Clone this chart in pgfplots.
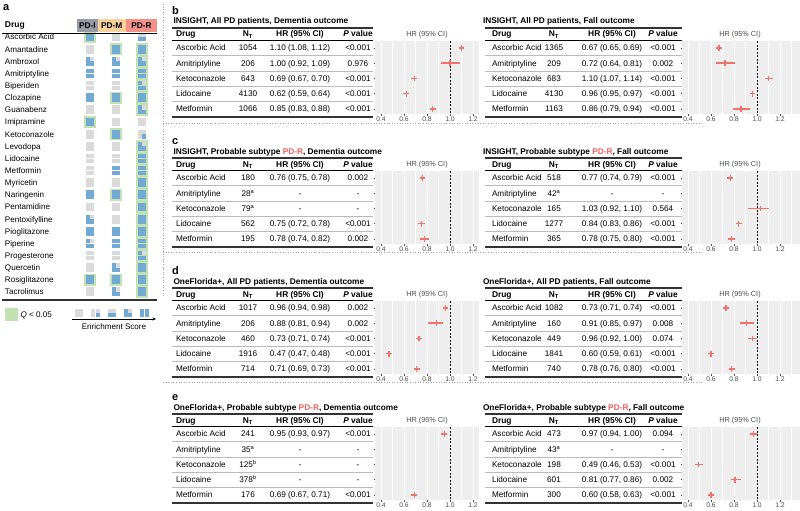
\documentclass[border=0pt]{standalone}
\usepackage{fontspec}
\setmainfont{Liberation Sans}
\usepackage{pgfplots}
\pgfplotsset{compat=1.18}
\usepackage{pgfplotstable}
\usetikzlibrary{arrows.meta}

\definecolor{fbg}{HTML}{EEEEEE}
\definecolor{hrred}{HTML}{F0736B}
\definecolor{pdred}{HTML}{F0625D}
\definecolor{boxI}{HTML}{989BA6}
\definecolor{boxM}{HTML}{F9D29B}
\definecolor{boxR}{HTML}{F4908A}
\definecolor{qgreen}{HTML}{C3E2B3}
\definecolor{cblue}{HTML}{72AAD4}
\definecolor{cgray}{HTML}{DADADA}
\definecolor{tgray}{HTML}{4D4D4D}
\definecolor{sepgray}{HTML}{BBBBBB}
\definecolor{tline}{HTML}{333333}

\newcommand\fs[1]{\fontsize{#1}{#1}\selectfont}

% enrichment cells: column, row, score (0-4 blue quarters), q (1 = Q<0.05)
\pgfplotstableread{
c r s q
0 0 4 1
0 1 0 0
0 2 3 0
0 3 4 0
0 4 0 0
0 5 4 0
0 6 0 0
0 7 4 1
0 8 0 0
0 9 0 0
0 10 0 0
0 11 0 0
0 12 0 0
0 13 4 0
0 14 0 0
0 15 3 0
0 16 4 0
0 17 3 0
0 18 0 0
0 19 0 0
0 20 4 1
0 21 0 0
1 0 0 0
1 1 4 1
1 2 3 0
1 3 4 0
1 4 0 0
1 5 4 1
1 6 0 0
1 7 0 0
1 8 4 1
1 9 0 0
1 10 0 0
1 11 4 0
1 12 0 0
1 13 4 1
1 14 0 0
1 15 0 0
1 16 4 0
1 17 4 0
1 18 0 0
1 19 3 0
1 20 4 1
1 21 3 0
2 0 2 0
2 1 4 1
2 2 3 1
2 3 4 1
2 4 3 1
2 5 4 1
2 6 3 1
2 7 0 0
2 8 1 0
2 9 3 1
2 10 4 1
2 11 4 1
2 12 4 1
2 13 4 1
2 14 4 1
2 15 4 1
2 16 4 1
2 17 4 1
2 18 3 1
2 19 4 1
2 20 4 1
2 21 4 1
-0.4231 22.73 0 0
0.2115 22.73 1 0
0.8462 22.73 2 0
1.4615 22.73 3 0
2.0962 22.73 4 0
}\hm

% forest data: row, HR, lower, upper
\pgfplotstableread{
r hr lo hi
1 1.10 1.08 1.12
2 1.00 0.92 1.09
3 0.69 0.67 0.70
4 0.62 0.59 0.64
5 0.85 0.83 0.88
}\bL
\pgfplotstableread{
r hr lo hi
1 0.67 0.65 0.69
2 0.72 0.64 0.81
3 1.10 1.07 1.14
4 0.96 0.95 0.97
5 0.86 0.79 0.94
}\bR
\pgfplotstableread{
r hr lo hi
1 0.76 0.75 0.78
4 0.75 0.72 0.78
5 0.78 0.74 0.82
}\cL
\pgfplotstableread{
r hr lo hi
1 0.77 0.74 0.79
3 1.03 0.92 1.10
4 0.84 0.83 0.86
5 0.78 0.75 0.80
}\cR
\pgfplotstableread{
r hr lo hi
1 0.96 0.94 0.98
2 0.88 0.81 0.94
3 0.73 0.71 0.74
4 0.47 0.47 0.48
5 0.71 0.69 0.73
}\dL
\pgfplotstableread{
r hr lo hi
1 0.73 0.71 0.74
2 0.91 0.85 0.97
3 0.96 0.92 1.00
4 0.60 0.59 0.61
5 0.78 0.76 0.80
}\dR
\pgfplotstableread{
r hr lo hi
1 0.95 0.93 0.97
5 0.69 0.67 0.71
}\eL
\pgfplotstableread{
r hr lo hi
1 0.97 0.94 1.00
3 0.49 0.46 0.53
4 0.81 0.77 0.86
5 0.60 0.58 0.63
}\eR

\pgfplotsset{
  forest/.style={
    scale only axis, height=72.96pt, anchor=north west,
    xmin=0.35, ymin=0.55, ymax=5.35, y dir=reverse,
    axis background/.style={fill=fbg},
    axis line style={draw=none},
    xtick={0.4,0.6,0.8,1.0,1.2}, minor xtick={0.5,0.7,0.9,1.1,1.3},
    ytick={1,2,3,4,5}, yticklabels={},
    xmajorgrids, xminorgrids,
    major grid style={white, line width=0.7pt},
    minor grid style={white, line width=0.35pt},
    tick align=outside, major tick length=1.5pt, minor tick length=0pt,
    tick style={tgray, line width=0.5pt},
    xtick pos=bottom, ytick pos=left,
    /pgf/number format/assume math mode=true,
    xticklabel style={font=\fs{6.8}, text=tgray, inner sep=1pt,
      /pgf/number format/fixed, /pgf/number format/fixed zerofill,
      /pgf/number format/precision=1},
  },
  cellg/.style={only marks, mark=square*, mark size=1.65pt, color=cgray, mark options={line width=0pt}},
  cellb/.style={only marks, mark=square*, mark size=1.65pt, color=cblue, mark options={line width=0pt}},
}

% forest plot: CI as a flat quiver from lo to hi, HR as a cross
% #1 x, #2 y, #3 table, #4 xmax, #5 width
\newcommand\forest[5]{%
\begin{axis}[forest, at={(#1pt,-#2pt)}, xmax=#4, width=#5pt]
\addplot[black, line width=0.6pt, dash pattern=on 2pt off 1.5pt] coordinates {(1,0.55) (1,5.35)};
\addplot[hrred, draw=hrred, line width=1.7pt, mark=none, quiver={u=\thisrow{hi}-\thisrow{lo}, v=0}] table[x=lo, y=r] {#3};
\addplot[only marks, mark=+, mark size=2.9pt, color=hrred, mark options={line width=1.4pt, draw=hrred}] table[x=hr, y=r] {#3};
\end{axis}}

\newcommand\setL{\def\xa{172}\def\xe{373}\def\xt{173.5}\def\xd{176}\def\xn{248}\def\xh{300}\def\xp{358}\def\xf{427}}
\newcommand\setR{\def\xa{485}\def\xe{682}\def\xt{483}\def\xd{492}\def\xn{554}\def\xh{612}\def\xp{663}\def\xf{740}}

\newcommand\tabhead[1]{%
  \node[anchor=base west, font=\bfseries\fs{8.3}] at (\xt,{24+\dy}) {#1};
  \draw[line width=1.2pt, tline] (\xa,{28+\dy}) -- (\xe,{28+\dy});
  \node[anchor=base west, font=\bfseries\fs{8.4}] at (\xd,{37+\dy}) {Drug};
  \node[anchor=base, font=\bfseries\fs{8.4}] at (\xn,{37+\dy}) {N\textsubscript{T}};
  \node[anchor=base, font=\bfseries\fs{8.4}] at (\xh,{37+\dy}) {HR (95\% CI)};
  \node[anchor=base, font=\bfseries\fs{8.4}] at (\xp,{37+\dy}) {\textit{P} value};
  \draw[line width=0.7pt] (\xa,{40.5+\dy}) -- (\xe,{40.5+\dy});
  \foreach \k in {1,...,4} \draw[line width=0.4pt, sepgray] (\xa,{48+15.2*(\k-0.5)+\dy}) -- (\xe,{48+15.2*(\k-0.5)+\dy});
  \draw[line width=1.2pt, tline] (\xa,{117+\dy}) -- (\xe,{117+\dy});
  \node[font=\fs{7.3}, text=tgray] at (\xf,{35+\dy}) {HR (95\% CI)};
}

\newcommand\trow[5]{%
  \node[anchor=base west, font=\fs{8.2}] at (\xd,{48+15.2*(#1-1)+\dy+2.9}) {#2};
  \node[anchor=base, font=\fs{8.2}] at (\xn,{48+15.2*(#1-1)+\dy+2.9}) {#3};
  \node[anchor=base, font=\fs{8.2}] at (\xh,{48+15.2*(#1-1)+\dy+2.9}) {#4};
  \node[anchor=base, font=\fs{8.2}] at (\xp,{48+15.2*(#1-1)+\dy+2.9}) {#5};
}

\begin{document}
\begin{tikzpicture}
\path[use as bounding box] (0,0) rectangle (800pt,-511pt);

% panel a cells
\begin{axis}[hide axis, x=26pt, y=12.14pt, y dir=reverse,
  xmin=-1, xmax=2.5, ymin=-0.5, ymax=23.5,
  anchor=north west, at={(64pt,-30.93pt)}, clip=false]
\addplot[only marks, mark=square*, mark size=5.7pt, color=qgreen, mark options={line width=0pt},
  restrict expr to domain={\thisrow{q}}{0.5:1.5}] table[x=c, y=r] {\hm};
\addplot[cellg] table[x expr=\thisrow{c}+0.0885, y expr=\thisrow{r}+0.1895] {\hm};
\addplot[cellg] table[x expr=\thisrow{c}-0.0885, y expr=\thisrow{r}+0.1895] {\hm};
\addplot[cellg] table[x expr=\thisrow{c}-0.0885, y expr=\thisrow{r}-0.1895] {\hm};
\addplot[cellg] table[x expr=\thisrow{c}+0.0885, y expr=\thisrow{r}-0.1895] {\hm};
\addplot[cellb, restrict expr to domain={\thisrow{s}}{0.5:5}] table[x expr=\thisrow{c}+0.0885, y expr=\thisrow{r}+0.1895] {\hm};
\addplot[cellb, restrict expr to domain={\thisrow{s}}{1.5:5}] table[x expr=\thisrow{c}-0.0885, y expr=\thisrow{r}+0.1895] {\hm};
\addplot[cellb, restrict expr to domain={\thisrow{s}}{2.5:5}] table[x expr=\thisrow{c}-0.0885, y expr=\thisrow{r}-0.1895] {\hm};
\addplot[cellb, restrict expr to domain={\thisrow{s}}{3.5:5}] table[x expr=\thisrow{c}+0.0885, y expr=\thisrow{r}-0.1895] {\hm};
\end{axis}

% forest plots
\forest{375.25}{41.2}{\bL}{1.25}{103.5}
\forest{682.25}{41.2}{\bR}{1.37}{117.3}
\forest{375.25}{171.2}{\cL}{1.25}{103.5}
\forest{682.25}{171.2}{\cR}{1.37}{117.3}
\forest{375.25}{301.2}{\dL}{1.25}{103.5}
\forest{682.25}{301.2}{\dR}{1.37}{117.3}
\forest{375.25}{427.2}{\eL}{1.25}{103.5}
\forest{682.25}{427.2}{\eR}{1.37}{117.3}

\begin{scope}[x=1pt, y=-1pt, every node/.style={inner sep=0pt, outer sep=0pt}]
% panel a text
\node[anchor=base west, font=\bfseries\fs{11}] at (3,11) {a};
\node[anchor=base west, font=\bfseries\fs{8.5}] at (5,27.5) {Drug};
\fill[boxI] (77,19) rectangle (97.5,32);
\fill[boxM] (97.5,19) rectangle (126,32);
\fill[boxR] (126,19) rectangle (157,32);
\node[anchor=base, font=\bfseries\fs{8.3}] at (87.3,28.5) {PD-I};
\node[anchor=base, font=\bfseries\fs{8.3}] at (111.8,28.5) {PD-M};
\node[anchor=base, font=\bfseries\fs{8.3}] at (141.5,28.5) {PD-R};
\draw[line width=0.8pt] (2,33) -- (157,33);
\foreach \n [count=\i from 0] in {Ascorbic Acid, Amantadine, Ambroxol, Amitriptyline, Biperiden, Clozapine, Guanabenz, Imipramine, Ketoconazole, Levodopa, Lidocaine, Metformin, Myricetin, Naringenin, Pentamidine, Pentoxifylline, Pioglitazone, Piperine, Progesterone, Quercetin, Rosiglitazone, Tacrolimus}
  \node[anchor=base west, font=\fs{8.1}] at (5,{37+12.14*\i+2.9}) {\n};
\draw[line width=1.2pt, tline] (2,300) -- (157,300);
\fill[qgreen] (5,308) rectangle (18,321);
\node[anchor=base west, font=\fs{8.1}] at (20.5,317.5) {\textit{Q} < 0.05};
\draw[line width=0.8pt, -{Stealth[length=3.5pt, width=3pt]}] (72,319) -- (156,319);
\node[anchor=base, font=\fs{8.1}] at (114,329) {Enrichment Score};

% separators
\draw[gray!70, line width=0.6pt, dotted] (163,4) -- (163,296);
\foreach \yy in {123,252,382} \draw[gray!70, line width=0.6pt, dotted] (163,\yy) -- (703,\yy);

% panel letters
\node[anchor=base west, font=\bfseries\fs{11}] at (172,14.8) {b};
\node[anchor=base west, font=\bfseries\fs{11}] at (172,144.8) {c};
\node[anchor=base west, font=\bfseries\fs{11}] at (172,274.8) {d};
\node[anchor=base west, font=\bfseries\fs{11}] at (172,400.8) {e};

% b
\def\dy{0}
\setL
\tabhead{INSIGHT, All PD patients, Dementia outcome}
\trow{1}{Ascorbic Acid}{1054}{1.10 (1.08, 1.12)}{<0.001}
\trow{2}{Amitriptyline}{206}{1.00 (0.92, 1.09)}{0.976}
\trow{3}{Ketoconazole}{643}{0.69 (0.67, 0.70)}{<0.001}
\trow{4}{Lidocaine}{4130}{0.62 (0.59, 0.64)}{<0.001}
\trow{5}{Metformin}{1066}{0.85 (0.83, 0.88)}{<0.001}
\setR
\tabhead{INSIGHT, All PD patients, Fall outcome}
\trow{1}{Ascorbic Acid}{1365}{0.67 (0.65, 0.69)}{<0.001}
\trow{2}{Amitriptyline}{209}{0.72 (0.64, 0.81)}{0.002}
\trow{3}{Ketoconazole}{683}{1.10 (1.07, 1.14)}{<0.001}
\trow{4}{Lidocaine}{4130}{0.96 (0.95, 0.97)}{<0.001}
\trow{5}{Metformin}{1163}{0.86 (0.79, 0.94)}{<0.001}

% c
\def\dy{130}
\setL
\tabhead{INSIGHT, Probable subtype \textcolor{pdred}{PD-R}, Dementia outcome}
\trow{1}{Ascorbic Acid}{180}{0.76 (0.75, 0.78)}{0.002}
\trow{2}{Amitriptyline}{28\textsuperscript{a}}{-}{-}
\trow{3}{Ketoconazole}{79\textsuperscript{a}}{-}{-}
\trow{4}{Lidocaine}{562}{0.75 (0.72, 0.78)}{<0.001}
\trow{5}{Metformin}{195}{0.78 (0.74, 0.82)}{0.002}
\setR
\tabhead{INSIGHT, Probable subtype \textcolor{pdred}{PD-R}, Fall outcome}
\trow{1}{Ascorbic Acid}{518}{0.77 (0.74, 0.79)}{<0.001}
\trow{2}{Amitriptyline}{42\textsuperscript{a}}{-}{-}
\trow{3}{Ketoconazole}{165}{1.03 (0.92, 1.10)}{0.564}
\trow{4}{Lidocaine}{1277}{0.84 (0.83, 0.86)}{<0.001}
\trow{5}{Metformin}{365}{0.78 (0.75, 0.80)}{<0.001}

% d
\def\dy{260}
\setL
\tabhead{OneFlorida+, All PD patients, Dementia outcome}
\trow{1}{Ascorbic Acid}{1017}{0.96 (0.94, 0.98)}{0.002}
\trow{2}{Amitriptyline}{206}{0.88 (0.81, 0.94)}{0.002}
\trow{3}{Ketoconazole}{460}{0.73 (0.71, 0.74)}{<0.001}
\trow{4}{Lidocaine}{1916}{0.47 (0.47, 0.48)}{<0.001}
\trow{5}{Metformin}{714}{0.71 (0.69, 0.73)}{<0.001}
\setR
\tabhead{OneFlorida+, All PD patients, Fall outcome}
\trow{1}{Ascorbic Acid}{1082}{0.73 (0.71, 0.74)}{<0.001}
\trow{2}{Amitriptyline}{160}{0.91 (0.85, 0.97)}{0.008}
\trow{3}{Ketoconazole}{449}{0.96 (0.92, 1.00)}{0.074}
\trow{4}{Lidocaine}{1841}{0.60 (0.59, 0.61)}{<0.001}
\trow{5}{Metformin}{740}{0.78 (0.76, 0.80)}{<0.001}

% e
\def\dy{386}
\setL
\tabhead{OneFlorida+, Probable subtype \textcolor{pdred}{PD-R}, Dementia outcome}
\trow{1}{Ascorbic Acid}{241}{0.95 (0.93, 0.97)}{<0.001}
\trow{2}{Amitriptyline}{35\textsuperscript{a}}{-}{-}
\trow{3}{Ketoconazole}{125\textsuperscript{b}}{-}{-}
\trow{4}{Lidocaine}{378\textsuperscript{b}}{-}{-}
\trow{5}{Metformin}{176}{0.69 (0.67, 0.71)}{<0.001}
\setR
\tabhead{OneFlorida+, Probable subtype \textcolor{pdred}{PD-R}, Fall outcome}
\trow{1}{Ascorbic Acid}{473}{0.97 (0.94, 1.00)}{0.094}
\trow{2}{Amitriptyline}{43\textsuperscript{a}}{-}{-}
\trow{3}{Ketoconazole}{198}{0.49 (0.46, 0.53)}{<0.001}
\trow{4}{Lidocaine}{601}{0.81 (0.77, 0.86)}{0.002}
\trow{5}{Metformin}{300}{0.60 (0.58, 0.63)}{<0.001}
\end{scope}
\end{tikzpicture}
\end{document}
